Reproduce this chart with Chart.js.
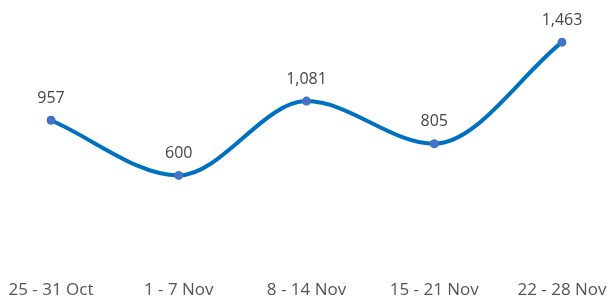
<!DOCTYPE html>
<html>
<head>
<meta charset="utf-8">
<script src="https://cdn.jsdelivr.net/npm/chart.js@4"></script>
<style>
  html, body { margin: 0; padding: 0; background: #fff; }
  #wrap { width: 612px; height: 300px; }
</style>
</head>
<body>
<div id="wrap"><canvas id="chart"></canvas></div>
<script>
// chart data
const weeks = ['25 - 31 Oct', '1 - 7 Nov', '8 - 14 Nov', '15 - 21 Nov', '22 - 28 Nov'];
const counts = [957, 600, 1081, 805, 1463];

// draw value labels above each point
const valueLabels = {
    id: 'valueLabels',
    afterDatasetsDraw(chart) {
        const ctx = chart.ctx;
        const meta = chart.getDatasetMeta(0);
        ctx.save();
        ctx.font = '16px "Open Sans", sans-serif';
        ctx.fillStyle = '#444';
        ctx.textAlign = 'center';
        ctx.textBaseline = 'middle';
        meta.data.forEach((pt, i) => {
            ctx.fillText(counts[i].toLocaleString('en-US'), pt.x, pt.y - 22);
        });
        ctx.restore();
    }
};

new Chart(document.getElementById('chart'), {
    type: 'line',
    data: {
        labels: weeks,
        datasets: [{
            data: counts,
            borderColor: '#0070C0',
            borderWidth: 4,
            cubicInterpolationMode: 'monotone',
            pointRadius: 4.5,
            pointBackgroundColor: '#4472C4',
            pointBorderColor: '#4472C4',
            pointBorderWidth: 0
        }]
    },
    options: {
        responsive: true,
        maintainAspectRatio: false,
        animation: false,
        layout: { padding: { left: 51, right: 50, top: 21, bottom: 0 } },
        plugins: { legend: { display: false }, tooltip: { enabled: false } },
        scales: {
            x: {
                offset: false,
                grid: { display: false, drawTicks: false },
                border: { display: false },
                afterFit(scale) {
                    scale.height = 32;
                    scale.paddingLeft = 0;
                    scale.paddingRight = 0;
                },
                ticks: {
                    maxRotation: 0,
                    autoSkip: false,
                    padding: 12,
                    color: '#555',
                    font: { family: '"Open Sans", sans-serif', size: 17 }
                }
            },
            y: {
                display: false,
                min: 0,
                max: 1600
            }
        }
    },
    plugins: [valueLabels]
});
</script>
</body>
</html>
